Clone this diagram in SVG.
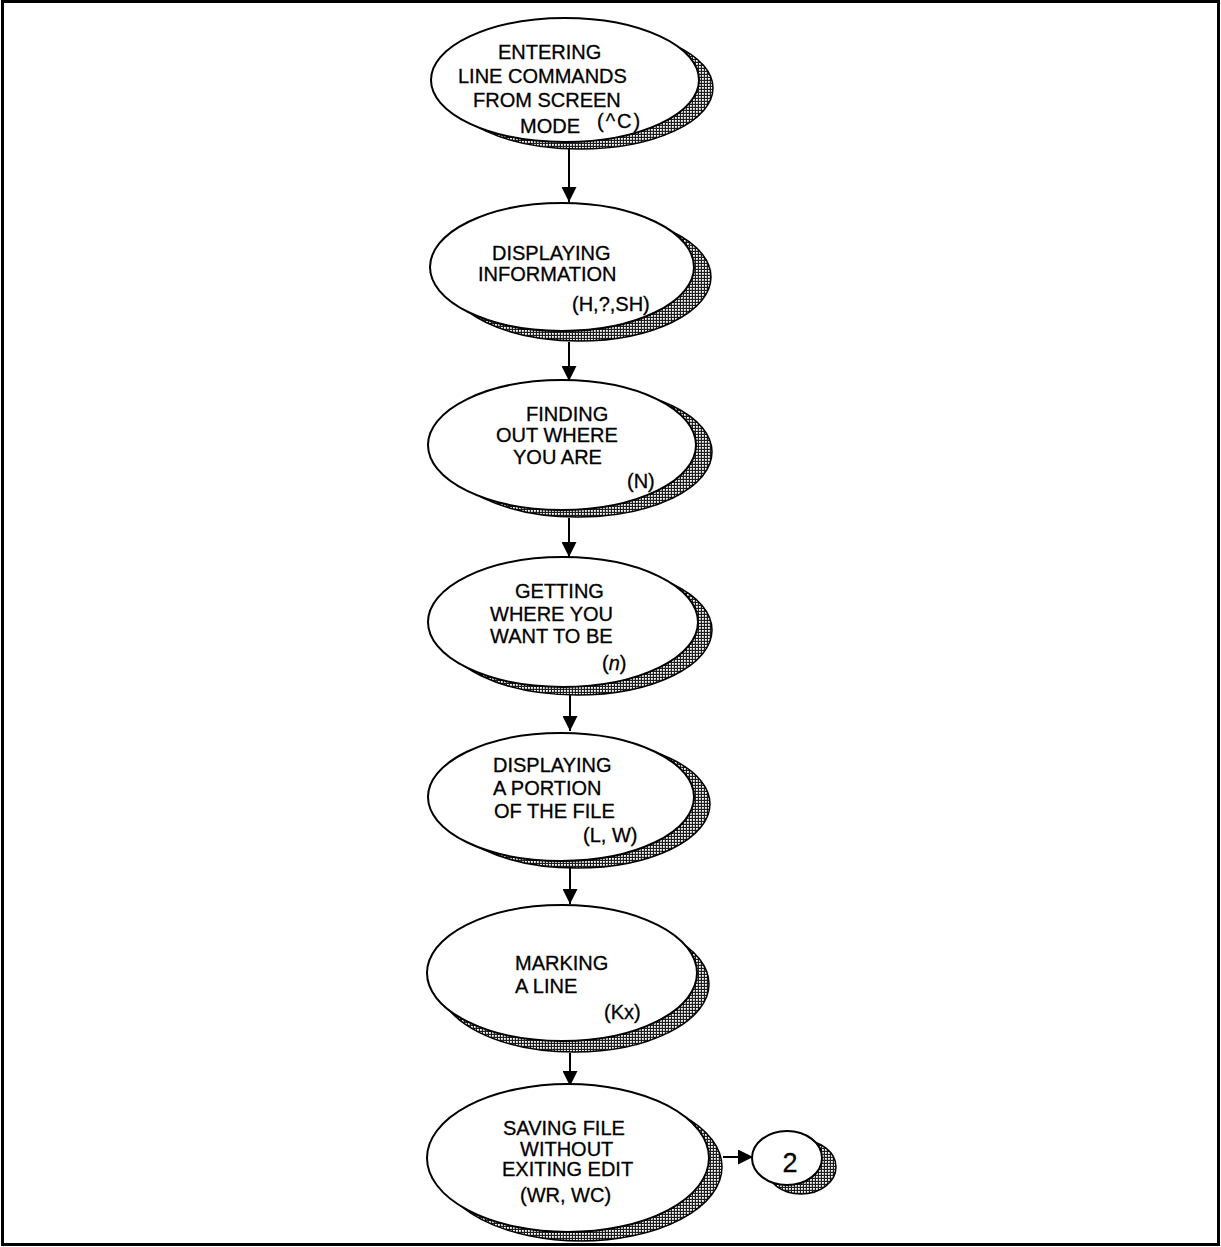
<svg xmlns="http://www.w3.org/2000/svg" width="1221" height="1247" viewBox="0 0 1221 1247">
<style>
.sh{fill:url(#dots);stroke:#000;stroke-width:1.5}
.el{fill:#fff;stroke:#000;stroke-width:2}
.t{font-family:"Liberation Sans",Arial,sans-serif;font-size:20px;fill:#000;stroke:#000;stroke-width:0.3}
.c{stroke:#000;stroke-width:2;fill:none;marker-end:url(#ah)}
</style>
<defs>
<pattern id="dots" width="3" height="3" patternUnits="userSpaceOnUse">
<rect width="3" height="3" fill="#1e1e1e"/>
<rect x="0" y="0" width="1.8" height="1.8" fill="#fff"/>
</pattern>
<marker id="ah" markerUnits="userSpaceOnUse" markerWidth="15" markerHeight="15" refX="15" refY="7.5" orient="auto">
<path d="M0,0 L15,7.5 L0,15 z" fill="#000"/>
</marker>
</defs>
<rect x="0" y="0" width="1221" height="1247" fill="#fff"/>
<rect x="2.5" y="1.5" width="1216" height="1243" fill="none" stroke="#000" stroke-width="3"/>

<g id="connectors">
<line class="c" x1="569" y1="148" x2="569" y2="202"/>
<line class="c" x1="569" y1="342" x2="569" y2="381"/>
<line class="c" x1="569" y1="518" x2="569" y2="557"/>
<line class="c" x1="570" y1="695" x2="570" y2="731"/>
<line class="c" x1="570" y1="868" x2="570" y2="904"/>
<line class="c" x1="570" y1="1053" x2="570" y2="1086"/>
<line class="c" x1="723" y1="1157" x2="753" y2="1157"/>
</g>

<g id="n1">
<ellipse class="sh" cx="580" cy="88" rx="133" ry="61"/>
<ellipse class="el" cx="565" cy="80" rx="134" ry="62"/>
<text class="t" x="498" y="59">ENTERING</text>
<text class="t" x="458" y="83">LINE COMMANDS</text>
<text class="t" x="473" y="107">FROM SCREEN</text>
<text class="t" x="520" y="133">MODE</text>
<text class="t" x="597" y="128" style="letter-spacing:2px">(^C)</text>
</g>

<g id="n2">
<ellipse class="sh" cx="579" cy="277" rx="132" ry="64"/>
<ellipse class="el" cx="562" cy="267" rx="132" ry="64"/>
<text class="t" x="492" y="260">DISPLAYING</text>
<text class="t" x="478" y="281">INFORMATION</text>
<text class="t" x="572" y="311">(H,?,SH)</text>
</g>

<g id="n3">
<ellipse class="sh" cx="578" cy="452" rx="134" ry="65"/>
<ellipse class="el" cx="562" cy="445" rx="134" ry="65"/>
<text class="t" x="526" y="421">FINDING</text>
<text class="t" x="496" y="442">OUT WHERE</text>
<text class="t" x="513" y="464">YOU ARE</text>
<text class="t" x="627" y="488">(N)</text>
</g>

<g id="n4">
<ellipse class="sh" cx="577" cy="630" rx="135" ry="65"/>
<ellipse class="el" cx="563" cy="622" rx="135" ry="65"/>
<text class="t" x="515" y="598">GETTING</text>
<text class="t" x="490" y="621">WHERE YOU</text>
<text class="t" x="490" y="643">WANT TO BE</text>
<text class="t" x="602" y="670">(<tspan font-style="italic">n</tspan>)</text>
</g>

<g id="n5">
<ellipse class="sh" cx="577" cy="804" rx="133" ry="64"/>
<ellipse class="el" cx="561" cy="797" rx="133" ry="64"/>
<text class="t" x="493" y="772">DISPLAYING</text>
<text class="t" x="493" y="795">A PORTION</text>
<text class="t" x="494" y="818">OF THE FILE</text>
<text class="t" x="583" y="842">(L, W)</text>
</g>

<g id="n6">
<ellipse class="sh" cx="574" cy="984" rx="135" ry="68"/>
<ellipse class="el" cx="562" cy="973" rx="135" ry="68"/>
<text class="t" x="515" y="970">MARKING</text>
<text class="t" x="515" y="993">A LINE</text>
<text class="t" x="604" y="1019">(Kx)</text>
</g>

<g id="n7">
<ellipse class="sh" cx="581" cy="1167" rx="141" ry="74"/>
<ellipse class="el" cx="568" cy="1158" rx="141" ry="74"/>
<text class="t" x="503" y="1135">SAVING FILE</text>
<text class="t" x="520" y="1156">WITHOUT</text>
<text class="t" x="502" y="1176">EXITING EDIT</text>
<text class="t" x="520" y="1202">(WR, WC)</text>
</g>

<g id="n8">
<ellipse class="sh" cx="801" cy="1167" rx="35" ry="27"/>
<ellipse class="el" cx="787" cy="1158" rx="35" ry="27"/>
<text class="t" x="790" y="1172" text-anchor="middle" style="font-size:27px">2</text>
</g>
</svg>
